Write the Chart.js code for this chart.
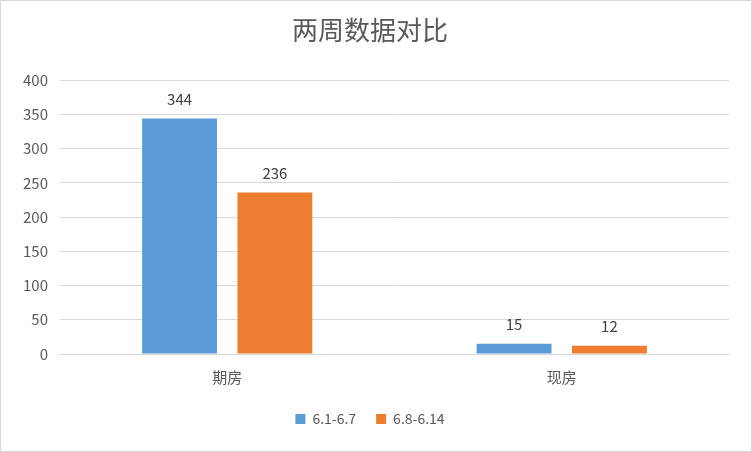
<!DOCTYPE html>
<html><head><meta charset="utf-8">
<script src="https://cdn.jsdelivr.net/npm/chart.js@4/dist/chart.umd.min.js"></script>
<style>
html,body{margin:0;padding:0;background:#fff}
#wrap{position:absolute;left:0;top:0;width:750px;height:450px;border:1px solid #d9d9d9}
</style></head><body>
<div id="wrap"><canvas id="c" width="750" height="450"></canvas></div>
<script>
var categories=['期房','现房'];
var seriesNames=['6.1-6.7','6.8-6.14'];
var week1=[344,15];
var week2=[236,12];
var FONT='"Noto Sans CJK SC","Noto Sans",sans-serif';

var labelPlugin={
  id:'vals',
  afterDatasetsDraw:function(chart){
    var ctx=chart.ctx;
    ctx.save();
    ctx.fillStyle='#404040';
    ctx.font='15px '+FONT;
    ctx.textAlign='center';
    ctx.textBaseline='bottom';
    chart.data.datasets.forEach(function(ds,i){
      chart.getDatasetMeta(i).data.forEach(function(bar,j){
        ctx.fillText(ds.data[j],bar.x,bar.y-12);
      });
    });
    ctx.restore();
  }
};

new Chart(document.getElementById('c').getContext('2d'),{
  type:'bar',
  data:{
    labels:categories,
    datasets:[
      {label:seriesNames[0],data:week1,backgroundColor:'#5b9bd5',categoryPercentage:0.57,barPercentage:0.785},
      {label:seriesNames[1],data:week2,backgroundColor:'#ed7d31',categoryPercentage:0.57,barPercentage:0.785}
    ]
  },
  options:{
    responsive:false,
    animation:false,
    layout:{padding:{left:10,right:22,top:0,bottom:15}},
    plugins:{
      title:{display:true,text:'两周数据对比',color:'#595959',font:{family:FONT,size:26,weight:'normal'},padding:{top:14,bottom:34}},
      legend:{position:'bottom',labels:{color:'#595959',font:{family:FONT,size:14},boxWidth:10,boxHeight:10,padding:20}},
      tooltip:{enabled:false}
    },
    scales:{
      x:{
        ticks:{color:'#595959',font:{family:FONT,size:15},padding:6},
        grid:{display:false},
        border:{color:'#d9d9d9'}
      },
      y:{
        min:0,max:400,
        ticks:{stepSize:50,color:'#595959',font:{family:FONT,size:15},padding:12},
        grid:{color:'#d9d9d9',drawTicks:false},
        border:{display:false}
      }
    }
  },
  plugins:[labelPlugin]
});
</script>
</body></html>
